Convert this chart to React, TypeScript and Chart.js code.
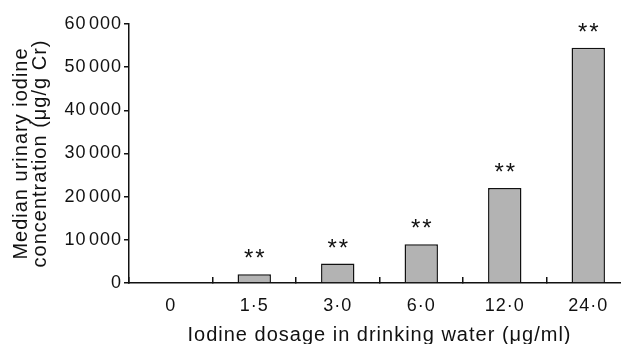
import React, { useEffect, useRef } from 'react';
import { Chart, registerables } from 'chart.js';

Chart.register(...registerables);

// ---- data ----
const categories = ['0', '1·5', '3·0', '6·0', '12·0', '24·0'];
const medianIodine = [0, 2000, 4500, 9000, 22000, 54500];
const significance = ['', '**', '**', '**', '**', '**'];
const yMin = 0;
const yMax = 60000;
const yStep = 10000;
const xTitle = 'Iodine dosage in drinking water (μg/ml)';
const yTitle = ['Median urinary iodine', 'concentration (μg/g Cr)'];

const FONT = '"Liberation Sans", Arial, Helvetica, sans-serif';
const INK = '#111111';
const BAR_FILL = '#b3b3b3';

const spacingPlugin = {
  id: 'spacing',
  beforeUpdate(chart: any) {
    chart.ctx.letterSpacing = '1px';
  },
  beforeDraw(chart: any) {
    chart.ctx.letterSpacing = '1px';
  },
};

const starsPlugin = {
  id: 'stars',
  afterDatasetsDraw(chart: any) {
    const meta = chart.getDatasetMeta(0);
    const ctx = chart.ctx;
    ctx.save();
    ctx.font = `24px ${FONT}`;
    ctx.letterSpacing = '2px';
    ctx.fillStyle = INK;
    ctx.textAlign = 'center';
    ctx.textBaseline = 'alphabetic';
    meta.data.forEach((bar: any, i: number) => {
      const s = significance[i];
      if (!s) return;
      ctx.fillText(s, bar.x + 1, bar.y - 8);
    });
    ctx.restore();
  },
};

function formatThousands(v: number): string {
  return String(v).replace(/\B(?=(\d{3})+(?!\d))/g, '\u200A');
}

export default function App() {
  const ref = useRef<HTMLCanvasElement | null>(null);

  useEffect(() => {
    if (!ref.current) return;
    const chart = new Chart(ref.current, {
      type: 'bar',
      data: {
        labels: categories,
        datasets: [
          {
            data: medianIodine,
            backgroundColor: BAR_FILL,
            borderColor: INK,
            borderWidth: 1.5,
            categoryPercentage: 1,
            barPercentage: 0.4,
          },
        ],
      },
      options: {
        responsive: false,
        animation: false,
        devicePixelRatio: 1,
        layout: { padding: { top: 24, right: 10, left: 0, bottom: 0 } },
        plugins: { legend: { display: false }, tooltip: { enabled: false } },
        scales: {
          x: {
            offset: true,
            grid: {
              display: true,
              offset: true,
              drawOnChartArea: false,
              drawTicks: true,
              tickLength: -6,
              color: INK,
              lineWidth: 1.5,
            },
            border: { display: true, color: INK, width: 1.5 },
            ticks: {
              color: INK,
              font: { family: FONT, size: 18 },
              padding: 18,
              maxRotation: 0,
              autoSkip: false,
            },
            title: {
              display: true,
              text: xTitle,
              color: INK,
              font: { family: FONT, size: 20 },
              padding: { top: 0, bottom: 12.3 },
            },
            afterFit(s: any) {
              s.height = 77;
            },
          } as any,
          y: {
            min: yMin,
            max: yMax,
            ticks: {
              stepSize: yStep,
              color: INK,
              font: { family: FONT, size: 18 },
              padding: 2,
              callback: (v: any) => formatThousands(Number(v)),
            },
            grid: {
              drawOnChartArea: false,
              drawTicks: true,
              tickLength: 5,
              color: INK,
              lineWidth: 1.5,
            },
            border: { display: true, color: INK, width: 1.5 },
            title: {
              display: true,
              text: yTitle,
              color: INK,
              font: { family: FONT, size: 20, lineHeight: 0.92 },
              padding: { top: 12.5, bottom: 0 },
            },
            afterFit(s: any) {
              s.width = 129;
            },
          } as any,
        },
      },
      plugins: [spacingPlugin, starsPlugin],
    });
    return () => chart.destroy();
  }, []);

  return (
    <div
      style={{
        position: 'fixed',
        left: 0,
        top: 0,
        width: 621,
        height: 344,
        overflow: 'hidden',
        background: '#fff',
      }}
    >
      <canvas ref={ref} width={640} height={360} style={{ display: 'block', width: 640, height: 360 }} />
    </div>
  );
}
